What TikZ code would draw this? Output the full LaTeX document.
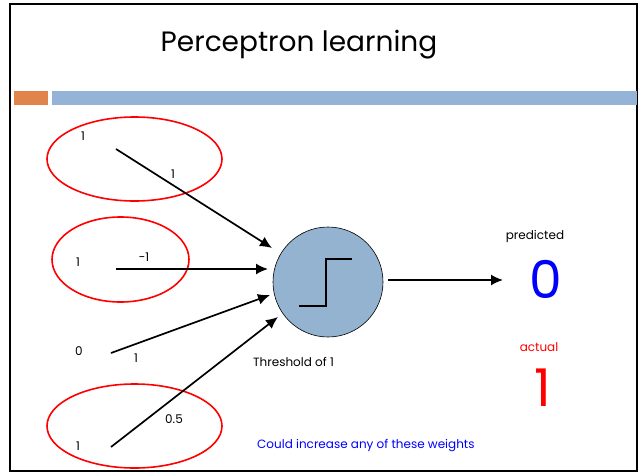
\documentclass[tikz,border=0pt]{standalone}
\usepackage{fontspec}
\setmainfont{Poppins}
\usetikzlibrary{arrows.meta}
\definecolor{barblue}{HTML}{95B3D7}
\definecolor{barorange}{HTML}{E0844C}
\definecolor{neuronfill}{HTML}{94B3D1}
\begin{document}
\begin{tikzpicture}[x=1pt,y=-1pt,
  lbl/.style={font=\fontsize{12}{14}\selectfont, inner sep=0pt},
  wire/.style={line width=1.7pt, -{Latex[length=12pt,width=11pt]}},
  sel/.style={draw=red, line width=1.6pt}]
\useasboundingbox (0,0) rectangle (643,474);
\draw[line width=1.5pt] (10,4) rectangle (637,471);
\node[font=\fontsize{28}{32}\selectfont] (title) at (299,45) {Perceptron learning};
\fill[barorange] (14,91) rectangle (48,105);
\fill[barblue] (52,91) rectangle (637,105);
% selection ellipses
\draw[sel] (134.5,159) ellipse (87.5 and 42);
\draw[sel] (120.5,259.5) ellipse (68.5 and 42.5);
\draw[sel] (134.5,426) ellipse (87.5 and 42);
% neuron
\node[circle, draw=black, line width=0.6pt, fill=neuronfill, minimum size=110pt, inner sep=0pt] (neuron) at (328,282) {};
\draw[line width=1.5pt] (299,306) -- (326,306) -- (326,259) -- (352,259);
% inputs
\node[lbl] (x1) at (83,136) {1};
\node[lbl] (x2) at (78,262) {1};
\node[lbl] (x3) at (79,351) {0};
\node[lbl] (x4) at (78,446) {1};
\coordinate (s1) at (116,149); \coordinate (t1) at (272,248);
\coordinate (s2) at (116,269); \coordinate (t2) at (268,269);
\coordinate (s3) at (111,353); \coordinate (t3) at (270,295);
\coordinate (s4) at (111,447); \coordinate (t4) at (278,317);
\draw[wire] (s1) -- (t1);
\draw[wire] (s2) -- (t2);
\draw[wire] (s3) -- (t3);
\draw[wire] (s4) -- (t4);
\node[lbl] (w1) at (173,174) {1};
\node[lbl] (w2) at (144,257) {-1};
\node[lbl] (w3) at (136,358) {1};
\node[lbl] (w4) at (174,419) {0.5};
\node[lbl, anchor=west] (thr) at (253,362) {Threshold of 1};
% output
\coordinate (o1) at (388,280); \coordinate (o2) at (503,280);
\draw[wire] (o1) -- (o2);
\node[lbl] (pred) at (535,236) {predicted};
\node[font=\fontsize{52}{56}\selectfont, text=blue, inner sep=0pt] (zero) at (546,279) {0};
\node[lbl, text=red] (act) at (539,347) {actual};
\node[font=\fontsize{52}{56}\selectfont, text=red, inner sep=0pt] (one) at (543,388) {1};
\node[lbl, text=blue, anchor=west] (note) at (257,446) {Could increase any of these weights};
\end{tikzpicture}
\end{document}
